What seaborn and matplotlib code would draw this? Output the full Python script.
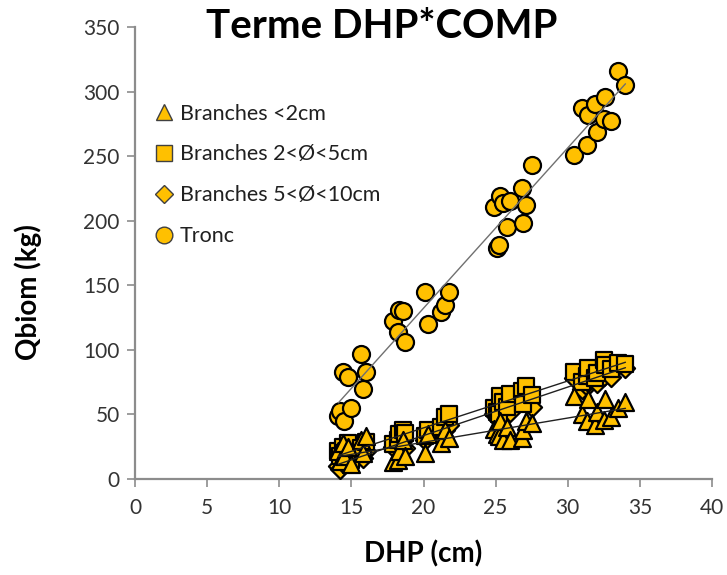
import matplotlib
matplotlib.use("Agg")
import matplotlib.pyplot as plt
import seaborn as sns
import numpy as np
import pandas as pd
from matplotlib.lines import Line2D

# ---- data ----
dhp = [14.1, 14.2, 14.4, 14.5, 14.8, 15.0, 15.7, 15.8, 16.0,
       17.9, 18.2, 18.3, 18.6, 18.7, 20.1, 20.3, 21.2, 21.5, 21.8,
       24.9, 25.1, 25.2, 25.3, 25.5, 25.8, 26.0, 26.8, 26.9, 27.1, 27.5,
       30.4, 31.0, 31.3, 31.4, 31.9, 32.0, 32.5, 32.6, 33.0, 33.5, 34.0]
tronc = [49, 53, 83, 45, 79, 55, 97, 70, 83,
         122, 114, 131, 130, 106, 145, 120, 129, 135, 145,
         211, 179, 181, 219, 214, 195, 215, 225, 198, 212, 243,
         251, 287, 259, 282, 290, 269, 279, 296, 277, 316, 305]
branches_lt2 = [22, 14, 28, 18, 25, 12, 30, 20, 33,
                13, 15, 22, 30, 18, 20, 35, 28, 38, 32,
                39, 35, 33, 45, 30, 40, 30, 32, 38, 45, 43,
                64, 50, 45, 62, 42, 52, 46, 62, 48, 55, 60]
branches_2_5 = [22, 18, 25, 20, 28, 15, 24, 20, 29,
                27, 30, 35, 38, 36, 33, 38, 40, 48, 50,
                55, 52, 50, 64, 60, 56, 66, 68, 58, 72, 65,
                83, 75, 80, 86, 78, 82, 92, 88, 85, 90, 89]
branches_5_10 = [10, 8, 15, 12, 18, 14, 20, 16, 22,
                 25, 28, 32, 30, 24, 30, 35, 32, 38, 42,
                 50, 54, 46, 58, 55, 60, 52, 62, 64, 68, 56,
                 78, 70, 72, 75, 82, 74, 80, 85, 79, 88, 86]

labels = ["Branches <2cm", "Branches 2<Ø<5cm", "Branches 5<Ø<10cm", "Tronc"]
series = [branches_lt2, branches_2_5, branches_5_10, tronc]
markers = ["^", "s", "D", "o"]
sizes = [150, 140, 95, 150]
line_colors = ["#202020", "#202020", "#202020", "#707070"]
x_ticks = [0, 5, 10, 15, 20, 25, 30, 35, 40]
y_ticks = [0, 50, 100, 150, 200, 250, 300, 350]

gold = "#FFC000"

sns.set_theme(style="white")
plt.rcParams['font.family'] = ['Lato', 'DejaVu Sans']

fig = plt.figure(figsize=(7.27, 5.75), dpi=100)
ax = fig.add_axes([135/727, 1 - 479/575, (712 - 135)/727, (479 - 27)/575])

order = [3, 2, 1, 0]
for i in order:
    df = pd.DataFrame({"DHP": dhp, "Q": series[i]})
    sns.scatterplot(data=df, x="DHP", y="Q", marker=markers[i], s=sizes[i],
                    color=gold, edgecolor="black", linewidth=1.6, ax=ax,
                    zorder=3, legend=False)

for i in order:
    df = pd.DataFrame({"DHP": dhp, "Q": series[i]})
    sns.regplot(data=df, x="DHP", y="Q", scatter=False, ci=None, ax=ax,
                line_kws=dict(color=line_colors[i], lw=1.0, zorder=4))

# legend
leg_sizes = [12, 11, 9.5, 12]
handles = [Line2D([], [], ls="", marker=markers[i], markersize=leg_sizes[i],
                  markerfacecolor=gold, markeredgecolor="#404040",
                  markeredgewidth=1.0) for i in range(4)]
leg = ax.legend(handles, labels, loc="upper left", bbox_to_anchor=(0.01, 0.864),
                frameon=False, fontsize=15.5, handlelength=0.8, handletextpad=0.3,
                labelspacing=0.97, borderaxespad=0.3)
for t in leg.get_texts():
    t.set_color("#202020")

ax.set_xlim(0, 40)
ax.set_ylim(0, 350)
ax.set_xticks(x_ticks)
ax.set_yticks(y_ticks)
ax.tick_params(axis="both", which="major", direction="out", length=6, width=1.2,
               color="#8c8c8c", labelsize=15, labelcolor="#333333", pad=5,
               bottom=True, left=True)
ax.tick_params(axis="x", pad=8)
for s in ["top", "right"]:
    ax.spines[s].set_visible(False)
for s in ["left", "bottom"]:
    ax.spines[s].set_color("#8c8c8c")
    ax.spines[s].set_linewidth(1.6)

ax.set_xlabel("DHP (cm)", fontsize=20, fontweight="bold", color="black")
ax.set_ylabel("Qbiom (kg)", fontsize=20, fontweight="bold", color="black")
ax.xaxis.set_label_coords(0.5, -0.135)
ax.yaxis.set_label_coords(-0.162, 0.414)

fig.text(382/727, 1 - 27/575, "Terme DHP*COMP", fontsize=29, fontweight="bold",
         ha="center", va="center", color="black")

fig.savefig("out.png", dpi=100)
